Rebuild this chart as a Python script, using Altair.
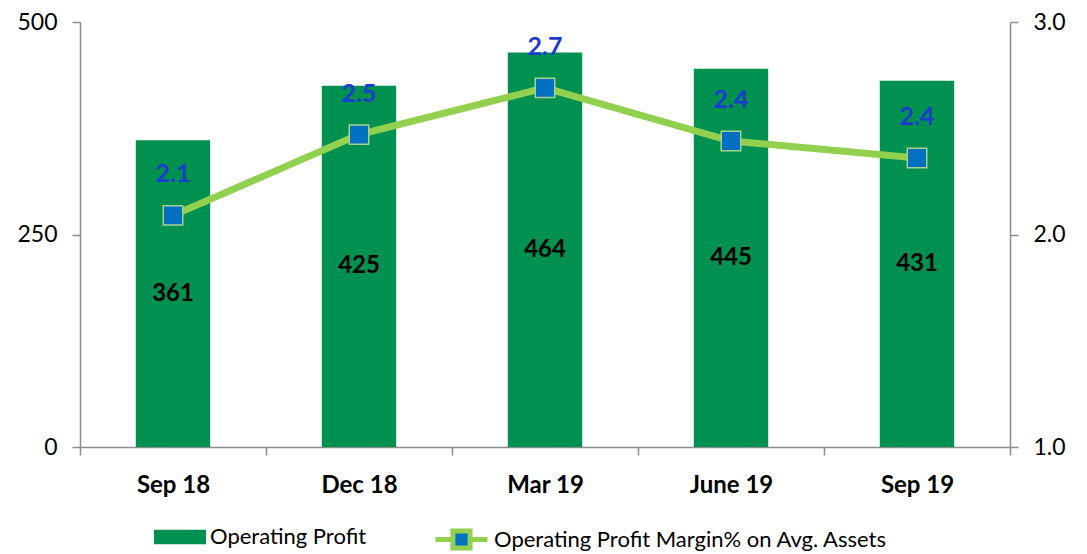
import altair as alt
import pandas as pd

quarters = ["Sep 18", "Dec 18", "Mar 19", "June 19", "Sep 19"]
operating_profit = [361, 425, 464, 445, 431]
margin_pct = [2.09, 2.47, 2.69, 2.44, 2.36]

s1 = "Operating Profit"
s2 = "Operating Profit Margin% on Avg. Assets"

df = pd.DataFrame({
    "quarter": quarters,
    "profit": operating_profit,
    "margin": margin_pct,
    "s1": [s1] * len(quarters),
    "s2": [s2] * len(quarters),
})

FONT = "Lato"
GREEN = "#00904F"
LIGHT = "#92D050"
BLUE = "#0070C0"
AXC = "#8c8c8c"

x_enc = alt.X(
    "quarter:N", sort=quarters, title=None,
    scale=alt.Scale(paddingInner=0, paddingOuter=0),
    axis=alt.Axis(labelAngle=0, labelFontWeight="bold", labelFontSize=24, labelFont=FONT,
                  labelPadding=18, tickBand="extent", domainColor=AXC, tickColor=AXC,
                  domainWidth=1.5, tickWidth=1.5, tickSize=8, labelColor="black"),
)

base = alt.Chart(df)

left_axis = alt.Axis(values=[0, 250, 500], orient="left", labelFontSize=23, labelFont=FONT,
                     labelPadding=15, tickSize=8, domainColor=AXC, tickColor=AXC,
                     domainWidth=1.5, tickWidth=1.5, labelColor="black", grid=False)

bars = base.mark_bar(width=alt.RelativeBandSize(0.4)).encode(
    x=x_enc,
    y=alt.Y("profit:Q", title=None, scale=alt.Scale(domain=[0, 500]), axis=left_axis),
    color=alt.Color("s1:N", title=None, scale=alt.Scale(range=[GREEN]),
                    legend=alt.Legend(orient="none", legendX=74, legendY=489,
                                      symbolType="M-1,-0.28H1V0.28H-1Z",
                                      symbolSize=2704, symbolStrokeWidth=0, labelLimit=0,
                                      labelFontSize=22, labelFont=FONT, labelColor="black")),
)

bar_text = base.transform_calculate(mid="datum.profit / 2").mark_text(
    fontWeight="bold", fontSize=24, font=FONT, color="black"
).encode(
    x=x_enc,
    y=alt.Y("mid:Q", title=None, scale=alt.Scale(domain=[0, 500]), axis=left_axis),
    text=alt.Text("profit:Q"),
)

left = alt.layer(bars, bar_text)

right_axis = alt.Axis(values=[1, 2, 3], format=".1f", orient="right", labelFontSize=23,
                      labelFont=FONT, labelPadding=15, tickSize=8, domainColor=AXC,
                      tickColor=AXC, domainWidth=1.5, tickWidth=1.5,
                      labelColor="black", grid=False)
y_right = alt.Y("margin:Q", title=None, scale=alt.Scale(domain=[1, 3]), axis=right_axis)

line = base.mark_line(color=LIGHT, strokeWidth=7).encode(x=x_enc, y=y_right)

points = base.mark_point(shape="square", filled=True, size=380, stroke="#A9D18E",
                         strokeWidth=1.5, opacity=1).encode(
    x=x_enc,
    y=y_right,
    color=alt.Color("s2:N", title=None, scale=alt.Scale(range=[BLUE]),
                    legend=alt.Legend(orient="none", legendX=353, legendY=489,
                                      symbolType="M-1,0H-0.33M0.33,0H1M-0.33,-0.33H0.33V0.33H-0.33Z",
                                      symbolSize=2704, symbolStrokeColor=LIGHT, symbolStrokeWidth=5,
                                      symbolFillColor=BLUE, labelLimit=0,
                                      labelFontSize=22, labelFont=FONT, labelColor="black")),
)

line_text = base.mark_text(fontWeight="bold", fontSize=25, font=FONT, color="#1C3CCF", dy=-41).encode(
    x=x_enc,
    y=y_right,
    text=alt.Text("margin:Q", format=".1f"),
)

right = alt.layer(line, points, line_text)

chart = alt.layer(left, right).resolve_scale(y="independent", color="independent").properties(
    width=930, height=425,
    autosize=alt.AutoSizeParams(type="none"),
    padding={"left": 72, "top": 14, "right": 65, "bottom": 115},
).configure_view(stroke=None).configure_axis(grid=False)

chart.save("out.html", embed_options={"renderer": "svg", "actions": False})
